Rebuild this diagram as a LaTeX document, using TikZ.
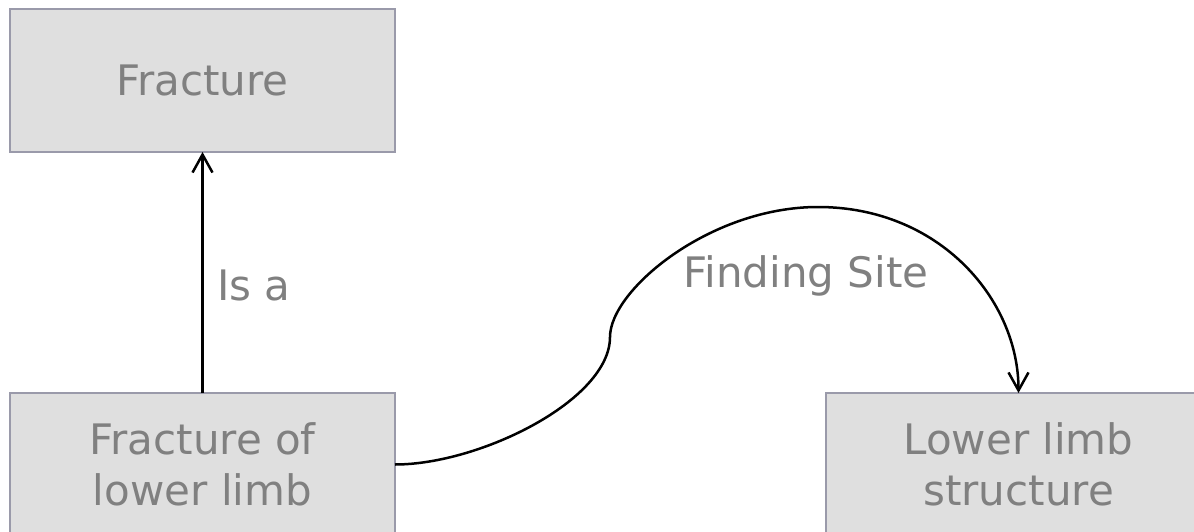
\documentclass[tikz,border=0pt]{standalone}
\usepackage{fontspec}
\setmainfont{DejaVu Sans}
\usetikzlibrary{arrows.meta}
\definecolor{boxfill}{HTML}{DFDFDF}
\definecolor{boxline}{HTML}{9A9AAA}
\definecolor{txtgray}{HTML}{808080}
\begin{document}
\begin{tikzpicture}[x=1pt,y=-1pt,
  conceptbox/.style={draw=boxline,fill=boxfill,line width=1.5pt,minimum width=385pt,minimum height=143pt,
    inner sep=0pt,outer sep=0pt,align=center,text=txtgray,font=\fontsize{42}{51}\selectfont},
  edgelabel/.style={text=txtgray,inner sep=0pt,font=\fontsize{42}{51}\selectfont},
  relation/.style={draw=black,line width=2.5pt,-{Straight Barb[length=18pt,width=20pt,line width=2.5pt]}}]
\useasboundingbox (0,0) rectangle (1194,532);
\node[conceptbox] (fr) at (202.5,80.5) {Fracture};
\node[conceptbox] (llb) at (202.5,464.5) {Fracture of\\lower limb};
\node[conceptbox] (lls) at (1018.5,464.5) {Lower limb\\structure};
\draw[relation] (llb.north) -- (fr.south);
\node[edgelabel,anchor=base west] (isa) at (217,300) {Is a};
\draw[relation] (llb.east) .. controls +(85,0) and (610,400) .. (610,337)
  .. controls (610,290) and (710,207) .. (818,207)
  .. controls (940,207) and (lls.north |- 0,300) .. (lls.north);
\node[edgelabel,anchor=base] (fs) at (806,287) {Finding Site};
\end{tikzpicture}
\end{document}
